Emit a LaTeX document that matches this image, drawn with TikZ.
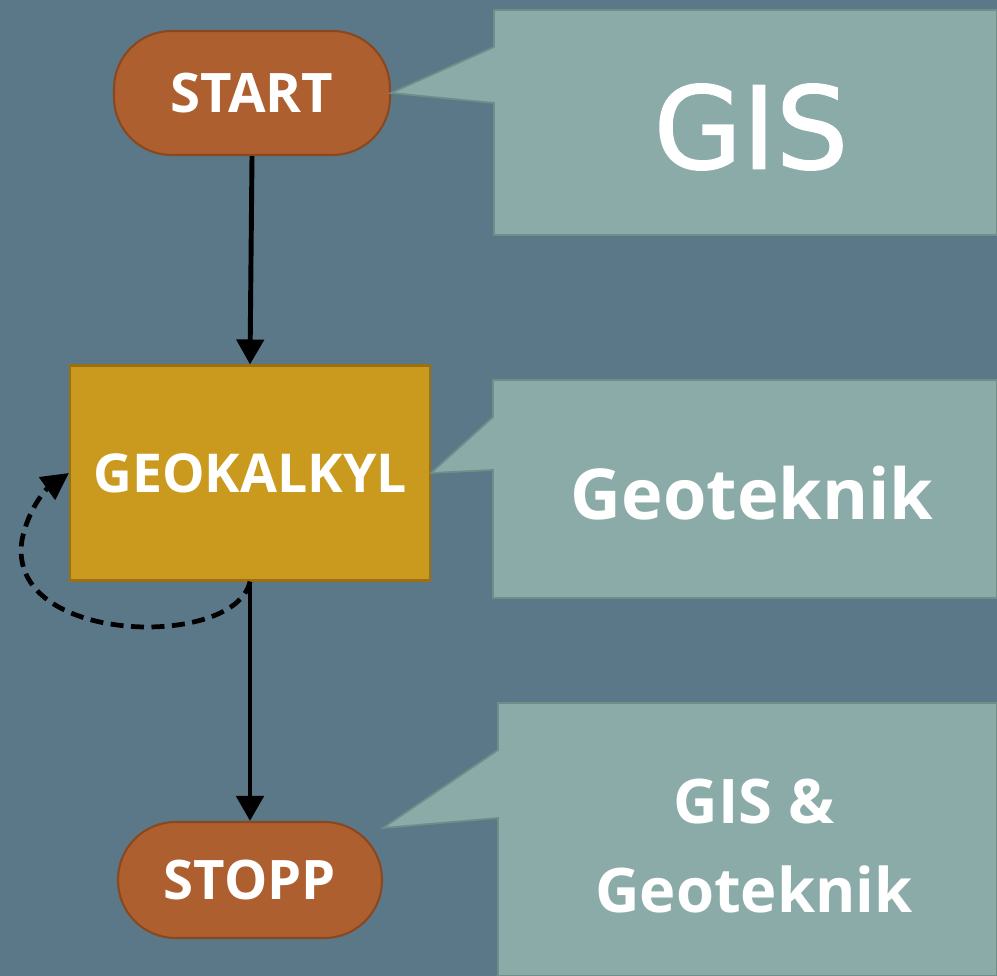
\documentclass[tikz,border=0pt]{standalone}
\usepackage{fontspec}
\setmainfont{Open Sans}
\newfontfamily\verafont[FakeBold=1.4]{DejaVu Sans}
\usepackage{xcolor}
\usetikzlibrary{arrows.meta}

\definecolor{slate}{HTML}{5B7889}
\definecolor{rust}{HTML}{AD5F2F}
\definecolor{rustline}{HTML}{8A4820}
\definecolor{ochre}{HTML}{C99A1D}
\definecolor{ochreline}{HTML}{9A7012}
\definecolor{sage}{HTML}{8AABA8}
\definecolor{sageline}{HTML}{6F8D89}

\begin{document}
\begin{tikzpicture}[x=0.02cm, y=-0.02cm,
  term/.style={draw=rustline, fill=rust, line width=1.2pt, rounded corners=1.15cm,
    text=white, font=\bfseries\fontsize{31}{37}\selectfont},
  proc/.style={draw=ochreline, fill=ochre, line width=1.2pt,
    text=white, font=\bfseries\fontsize{30.5}{36}\selectfont},
  bubble/.style={draw=sageline, fill=sage, line width=1pt},
  btext/.style={text=white, align=center},
  flow/.style={line width=2.8pt, -{Triangle[width=0.54cm, length=0.5cm]}}]
\fill[slate] (0,0) rectangle (997,976);
\useasboundingbox (0,0) rectangle (997,976);

% flow chart
\node[term, minimum width=5.52cm, minimum height=2.48cm] (start) at (252,93) {START};
\node[proc, minimum width=7.2cm, minimum height=4.3cm] (geo) at (250,473) {GEOKALKYL};
\node[term, minimum width=5.28cm, minimum height=2.32cm] (stopp) at (250,880) {STOPP};
\draw[flow] (start.south) -- (geo.north);
\draw[flow] (geo.south) -- (stopp.north);
\draw[line width=2.7pt, dash pattern=on 0.26cm off 0.15cm,
  -{Triangle[width=0.54cm, length=0.54cm]}]
  (geo.south) .. controls (235,650) and (5,645) .. (22,540)
  .. controls (28,510) and (45,490) .. (geo.west);

% callouts
\draw[bubble] (494,10) -- (997,10) -- (997,235) -- (494,235) -- (494,103)
  -- (start.east) -- (494,47) -- cycle;
\draw[bubble] (493,380) -- (997,380) -- (997,598) -- (493,598) -- (493,470)
  -- (geo.east) -- (493,417) -- cycle;
\draw[bubble] (498,703) -- (997,703) -- (997,976) -- (498,976) -- (498,818)
  -- (383,828) -- (498,750) -- cycle;

\node[btext, font=\verafont\fontsize{65}{70}\selectfont] (gis) at (751,127) {GIS};
\node[btext, font=\bfseries\fontsize{40}{46}\selectfont] (geotek) at (752,493) {Geoteknik};
\node[btext, font=\bfseries\fontsize{35}{51}\selectfont] (both) at (754,846) {GIS \&\\Geoteknik};
\end{tikzpicture}
\end{document}
